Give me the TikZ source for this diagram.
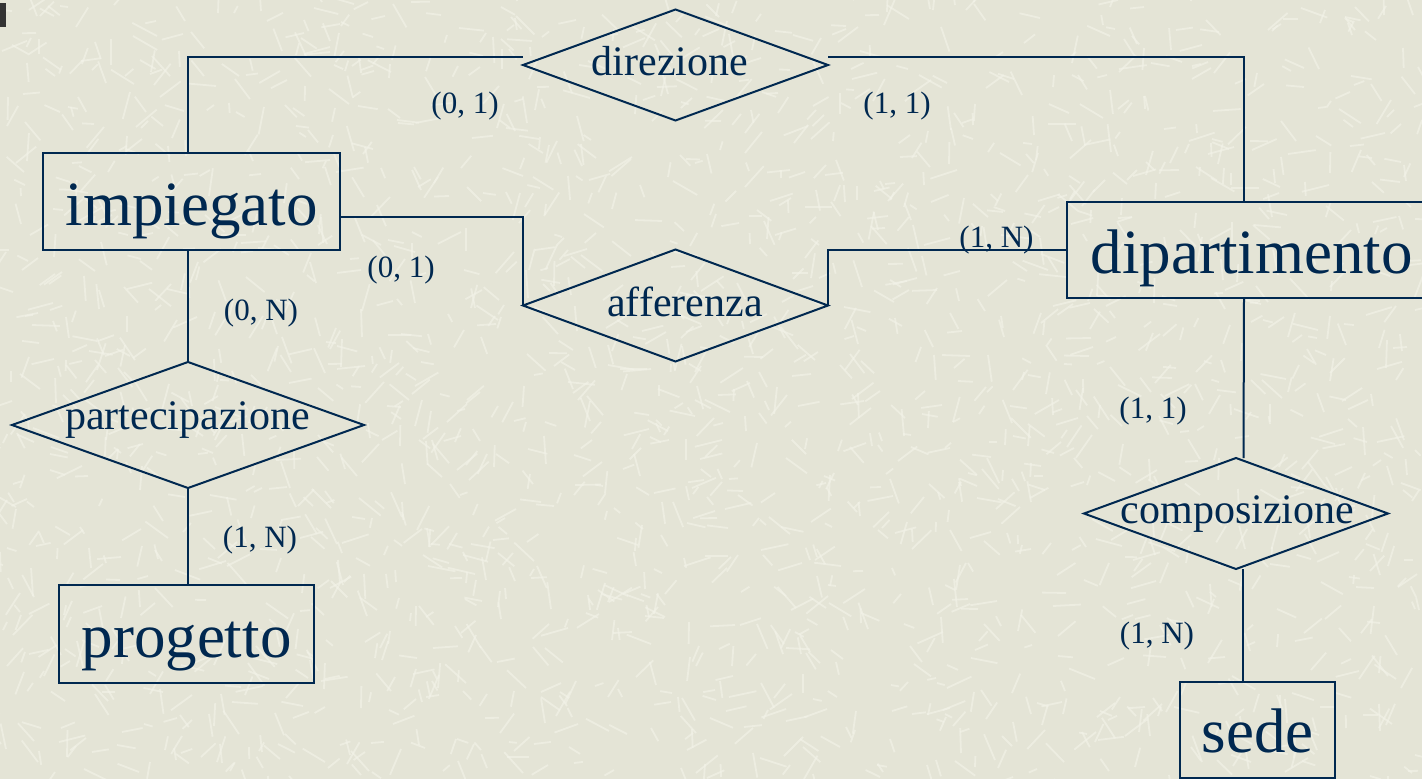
\documentclass[tikz,border=0pt]{standalone}
\usepackage{fontspec}
\setmainfont{Liberation Serif}
\usetikzlibrary{shapes.geometric}
\definecolor{ink}{HTML}{002850}
\definecolor{paper}{HTML}{E4E4D6}
\definecolor{fleck}{HTML}{F3F3E9}
\tikzset{
  entity/.style={draw=ink, line width=2pt, rectangle, inner sep=0pt, outer sep=0pt,
    anchor=north west, text=ink, font=\fontsize{63}{63}\selectfont},
  relation/.style={draw=ink, line width=2pt, diamond, inner sep=0pt, outer sep=0pt},
  reltext/.style={anchor=base, inner sep=0pt, text=ink, font=\fontsize{42}{42}\selectfont},
  card/.style={anchor=base, inner sep=0pt, text=ink, font=\fontsize{31}{31}\selectfont},
  link/.style={draw=ink, line width=2pt},
}
\begin{document}
\begin{tikzpicture}[x=1pt, y=-1pt]
\useasboundingbox (0,0) rectangle (1422,779);
\clip (0,0) rectangle (1422,779);
% paper background with light flecks
\fill[paper] (0,0) rectangle (1422,779);
\pgfmathsetseed{7}
\foreach \i in {1,...,2200}{
  \pgfmathsetmacro{\px}{random(0,1422)}
  \pgfmathsetmacro{\py}{random(0,779)}
  \pgfmathsetmacro{\pa}{random(0,359)}
  \pgfmathsetmacro{\pl}{random(8,28)}
  \draw[fleck, line width=1.8pt, opacity=0.6] (\px,\py) -- ++(\pa:\pl);
}
\fill[black!80] (0,3) rectangle (6,27);

% entities
\node[entity, minimum width=297pt, text height=72pt, text depth=25pt] (imp) at (43,153) {impiegato};
\node[entity, minimum width=369pt, text height=71pt, text depth=25pt] (dip) at (1067,202) {dipartimento};
\node[entity, minimum width=255pt, text height=72pt, text depth=26pt] (prog) at (59,585) {progetto};
\node[entity, minimum width=155pt, text height=70pt, text depth=26pt] (sede) at (1180,682) {sede};

% relationships
\node[relation, minimum width=305pt, minimum height=111pt] (dir) at (675.5,65) {};
\node[relation, minimum width=305pt, minimum height=112pt] (aff) at (675.5,305.5) {};
\node[relation, minimum width=352pt, minimum height=126pt] (part) at (188,425) {};
\node[relation, minimum width=304pt, minimum height=111pt] (comp) at (1236,513.5) {};

\node[reltext] (dirT) at (670,75) {direzione};
\node[reltext] (affT) at (685,316) {afferenza};
\node[reltext] (partT) at (187.5,429) {partecipazione};
\node[reltext] (compT) at (1237.5,523) {composizione};

% connectors
\draw[link] ([xshift=-3.5pt]imp.north) |- ([yshift=8pt]dir.west);
\draw[link] ([yshift=8pt]dir.east) -| ([xshift=-7.5pt]dip.north);
\draw[link] ([yshift=-15.5pt]imp.east) -| (aff.west);
\draw[link] (aff.east) |- (dip.west);
\draw[link] (part.north |- imp.south) -- (part.north);
\draw[link] (part.south) -- (part.south |- prog.north);
\draw[link] ([xshift=-7.5pt]dip.south) -- ([xshift=7.5pt]comp.north);
\draw[link] ([xshift=7pt]comp.south) -- ([xshift=7pt]comp.south |- sede.north);

% cardinalities
\node[card] (c1) at (465,113) {(0, 1)};
\node[card] (c2) at (897,113) {(1, 1)};
\node[card] (c3) at (401,277) {(0, 1)};
\node[card] (c4) at (996.5,247) {(1, N)};
\node[card] (c5) at (261,320) {(0, N)};
\node[card] (c6) at (260,547) {(1, N)};
\node[card] (c7) at (1153,418) {(1, 1)};
\node[card] (c8) at (1157,643) {(1, N)};
\end{tikzpicture}
\end{document}
